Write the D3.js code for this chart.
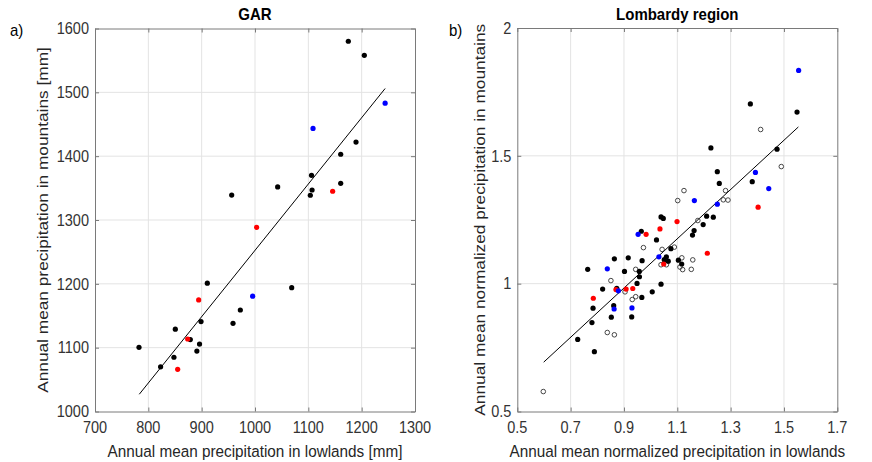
<!DOCTYPE html>
<html><head><meta charset="utf-8">
<script src="https://cdn.jsdelivr.net/npm/d3@7/dist/d3.min.js"></script>
<style>body{margin:0;background:#fff}svg{display:block}text{font-family:"Liberation Sans",Arial,sans-serif}</style>
</head><body><svg id="c" width="872" height="462"></svg>
<script>
// ---- Panel a) GAR : [lowlands mm, mountains mm]
const garBlack = [[782.5,1100.5],[823,1070],[848,1085],[850.6,1129],[878.7,1112.6],[891,1094.7],[896,1105.7],[898.8,1140.9],[910.6,1201],[958.8,1138.2],[972.5,1159],[1068.8,1194],[956.3,1339],[1042.5,1351.8],[1175,1580],[1205,1558],[1189.4,1422],[1160.7,1403],[1106,1370],[1107,1347],[1103.7,1338.8],[1160.7,1357.5]];
const garRed = [[855,1066],[873.8,1113.6],[894.4,1174.8],[1003,1288.5],[1145.6,1345]];
const garBlue = [[995.6,1180.6],[1108.8,1443.4],[1244,1483]];
const garFit = [[783,1027],[1244,1506]];
const garXTicks = [700,800,900,1000,1100,1200,1300];
const garYTicks = [1000,1100,1200,1300,1400,1500,1600];

// ---- Panel b) Lombardy region : [normalized lowlands, normalized mountains]
const lomBlack = [[1.549,1.671],[1.374,1.703],[1.474,1.526],[1.226,1.531],[1.250,1.438],[1.2575,1.392],[1.381,1.399],[1.210,1.264],[1.235,1.260],[1.197,1.231],[1.163,1.208],[1.157,1.190],[1.039,1.261],[1.0475,1.255],[0.965,1.205],[1.022,1.171],[1.076,1.137],[1.059,1.105],[1.051,1.094],[1.066,1.088],[1.104,1.092],[1.1165,1.077],[0.864,1.097],[0.916,1.101],[0.968,1.090],[0.902,1.048],[0.9575,1.048],[0.958,1.027],[0.949,1.001],[1.039,0.998],[1.006,0.968],[0.820,0.979],[0.873,0.982],[0.967,0.946],[0.764,1.056],[0.784,0.904],[0.8615,0.914],[0.780,0.848],[0.8525,0.869],[0.929,0.870],[0.7265,0.782],[0.789,0.734]];
const lomRed = [[0.870,0.977],[0.908,0.979],[0.933,0.981],[0.785,0.943],[0.983,1.193],[1.035,1.214],[1.099,1.243],[1.2125,1.119],[1.049,1.077],[1.403,1.299]];
const lomBlue = [[1.555,1.834],[1.393,1.435],[1.443,1.372],[1.250,1.311],[1.164,1.325],[0.953,1.193],[1.031,1.105],[0.8375,1.058],[0.879,0.972],[0.863,0.901],[0.930,0.905]];
const lomOpen = [[0.5975,0.578],[0.8375,0.809],[0.864,0.800],[0.851,1.012],[0.904,0.968],[0.931,0.938],[0.944,0.949],[0.944,1.056],[0.973,1.141],[1.043,1.134],[1.039,1.074],[1.059,1.074],[1.089,1.143],[1.110,1.065],[1.120,1.055],[1.1525,1.056],[1.117,1.101],[1.158,1.093],[1.177,1.247],[1.125,1.364],[1.1015,1.325],[1.281,1.364],[1.2725,1.328],[1.290,1.327],[1.4125,1.603],[1.490,1.458]];
const lomFit = [[0.599,0.693],[1.554,1.613]];
const lomXTicks = [0.5,0.7,0.9,1.1,1.3,1.5,1.7];
const lomYTicks = [0.5,1,1.5,2];

const svg = d3.select("#c");
const VS = 1.13; // vertical stretch of the original figure

// horizontal text, stretched vertically around its vertical centre
function htext(g, x, yc, str, size, anchor, opts={}){
  const t = g.append("text").attr("transform",`translate(${x},${yc}) scale(1,${VS})`)
    .attr("text-anchor",anchor).attr("dominant-baseline","central")
    .attr("font-size",size).attr("fill",opts.fill||"#262626").text(str);
  if(opts.bold) t.attr("font-weight","bold");
  return t;
}

function panel(o){
  const g = svg.append("g");
  const x = d3.scaleLinear().domain(o.xd).range([o.x0,o.x1]);
  const y = d3.scaleLinear().domain(o.yd).range([o.y1,o.y0]);
  // grid
  g.append("g").selectAll("line").data(o.xt.slice(1,-1)).join("line")
    .attr("x1",d=>x(d)).attr("x2",d=>x(d)).attr("y1",o.y0).attr("y2",o.y1)
    .attr("stroke","#e3e3e3").attr("stroke-width",1);
  g.append("g").selectAll("line").data(o.yt.slice(1,-1)).join("line")
    .attr("y1",d=>y(d)).attr("y2",d=>y(d)).attr("x1",o.x0).attr("x2",o.x1)
    .attr("stroke","#e3e3e3").attr("stroke-width",1);
  // axes (ticks inward, labels drawn separately)
  const ax = (gen, tr, vals)=>{
    const a = g.append("g").attr("transform",tr).call(gen.tickValues(vals).tickSizeInner(-4).tickSizeOuter(0));
    a.select(".domain").attr("stroke","#7a7a7a");
    a.selectAll(".tick line").attr("stroke","#7a7a7a");
    a.selectAll(".tick text").remove();
    return a;
  };
  ax(d3.axisBottom(x), `translate(0,${o.y1})`, o.xt);
  ax(d3.axisLeft(y), `translate(${o.x0},0)`, o.yt);
  ax(d3.axisTop(x), `translate(0,${o.y0})`, o.xt);
  ax(d3.axisRight(y), `translate(${o.x1},0)`, o.yt);
  o.xt.forEach(v=>htext(g, x(v), o.y1+16, o.fmt(v), 14.5, "middle", {fill:"#333"}));
  o.yt.forEach(v=>htext(g, o.x0-6, y(v), o.fmt(v), 14.5, "end", {fill:"#333"}));
  // fit line
  g.append("line").attr("x1",x(o.fit[0][0])).attr("y1",y(o.fit[0][1]))
    .attr("x2",x(o.fit[1][0])).attr("y2",y(o.fit[1][1])).attr("stroke","#000").attr("stroke-width",1);
  // points
  if(o.open) g.append("g").selectAll("circle").data(o.open).join("circle")
    .attr("cx",d=>x(d[0])).attr("cy",d=>y(d[1])).attr("r",2.3)
    .attr("fill","none").attr("stroke","#333").attr("stroke-width",0.9);
  [[o.black,"#000"],[o.red,"#ff0000"],[o.blue,"#0000ff"]].forEach(([arr,c])=>{
    g.append("g").selectAll("circle").data(arr).join("circle")
      .attr("cx",d=>x(d[0])).attr("cy",d=>y(d[1])).attr("r",2.6).attr("fill",c);
  });
  // titles & labels
  const cx = (o.x0+o.x1)/2, cy=(o.y0+o.y1)/2;
  htext(g, cx, 14, o.title, 15, "middle", {fill:"#000", bold:true});
  htext(g, cx, 451, o.xl, 15.3, "middle");
  g.append("text").attr("transform",`translate(${o.ylx},${cy}) rotate(-90) scale(${VS},1)`).attr("text-anchor","middle")
    .attr("dominant-baseline","central").attr("font-size",15.3).attr("fill","#262626").text(o.yl);
  htext(g, o.tagx, 30, o.tag, 15, "start", {fill:"#000"});
}

panel({x0:95,x1:415,y0:28.5,y1:411.5,xd:[700,1300],yd:[1000,1600],xt:garXTicks,yt:garYTicks,
  fmt:d3.format("d"),black:garBlack,red:garRed,blue:garBlue,fit:garFit,
  title:"GAR",xl:"Annual mean precipitation in lowlands [mm]",yl:"Annual mean precipitation in mountains [mm]",ylx:42,tag:"a)",tagx:10});
panel({x0:517.3,x1:837.3,y0:28,y1:411.5,xd:[0.5,1.7],yd:[0.5,2],xt:lomXTicks,yt:lomYTicks,
  fmt:d=>String(d),black:lomBlack,red:lomRed,blue:lomBlue,open:lomOpen,fit:lomFit,
  title:"Lombardy region",xl:"Annual mean normalized precipitation in lowlands",yl:"Annual mean normalized precipitation in mountains",ylx:479,tag:"b)",tagx:449});
</script></body></html>
